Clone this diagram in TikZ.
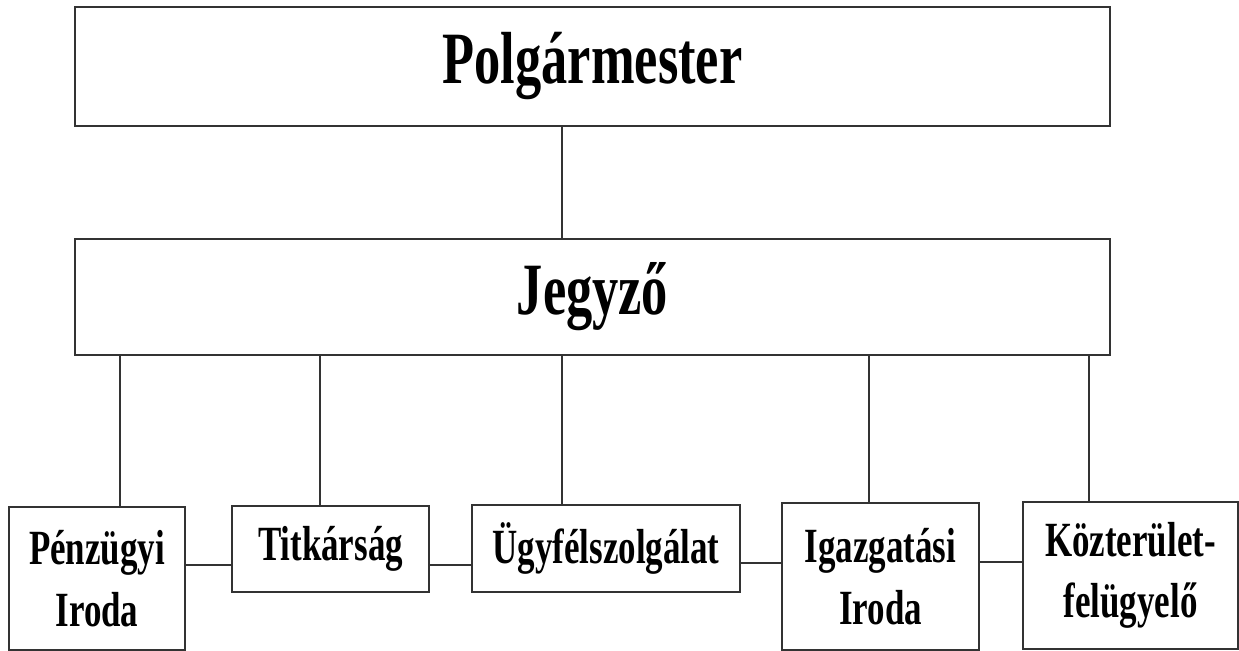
\documentclass[tikz,border=0pt]{standalone}
\usepackage{fontspec}
\newfontfamily\orgfont{Liberation Serif}[FakeStretch=0.71]

\begin{document}
\begin{tikzpicture}[x=0.02cm,y=-0.02cm,line width=1pt,draw=black!80]
	\useasboundingbox (0,0) rectangle (1239,651);
	\begin{scope}[every node/.style={draw,line width=1.3pt,inner sep=0pt,align=center,font=\orgfont\bfseries\fontsize{42}{46}\selectfont}]
		\node[minimum width=20.7cm,minimum height=2.38cm] (polg) at (592.5,66.5) {Polgármester};
		\node[minimum width=20.7cm,minimum height=2.32cm] (jegy) at (592.5,297) {Jegyző};
	\end{scope}
	
	\begin{scope}[every node/.style={draw,line width=1.2pt,inner sep=0pt,align=center,font=\orgfont\bfseries\fontsize{28}{35}\selectfont}]
		\node[minimum width=3.52cm,minimum height=2.86cm] (penz) at (97,578.5) {Pénzügyi\\Iroda};
		\node[minimum width=3.94cm,minimum height=1.72cm] (titk) at (330.5,549) {Titkárság};
		\node[minimum width=5.36cm,minimum height=1.74cm] (ugyf) at (606,548.5) {Ügyfélszolgálat};
		\node[minimum width=3.94cm,minimum height=2.94cm] (igaz) at (880.5,576.5) {Igazgatási\\Iroda};
		\node[minimum width=4.3cm,minimum height=2.94cm] (kozt) at (1130.5,575.5) {Közterület-\\felügyelő};
	\end{scope}
	
	\begin{scope}
		\draw (polg.south -| 562,0) -- (jegy.north -| 562,0);
		\foreach \n/\x in {penz/120,titk/320,ugyf/562,igaz/869,kozt/1089}
			\draw (jegy.south -| \x,0) -- (\n.north -| \x,0);
		\draw (penz.east |- 0,565) -- (titk.west |- 0,565);
		\draw (titk.east |- 0,565) -- (ugyf.west |- 0,565);
		\draw (ugyf.east |- 0,563) -- (igaz.west |- 0,563);
		\draw (igaz.east |- 0,562) -- (kozt.west |- 0,562);
	\end{scope}
\end{tikzpicture}
\end{document}
